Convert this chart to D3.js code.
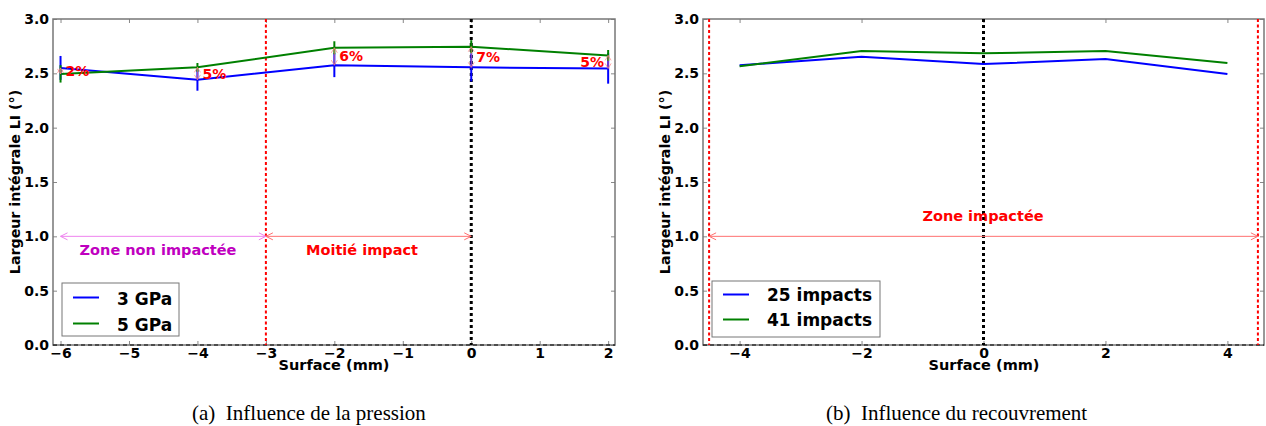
<!DOCTYPE html>
<html><head><meta charset="utf-8">
<script src="https://cdn.jsdelivr.net/npm/d3@7"></script>
<style>body{margin:0;background:#fff}svg{display:block}text{font-family:"DejaVu Sans",sans-serif}.cap{font-family:"Liberation Serif",serif;white-space:pre}</style>
</head><body>
<svg id="c" width="1266" height="426"></svg>
<script>
// ---- Data ----
const xA = [-6, -4, -2, 0, 2];
const gpa3 = [2.55, 2.44, 2.575, 2.555, 2.545];
const gpa3Err = [0.11, 0.10, 0.11, 0.13, 0.14];
const gpa5 = [2.495, 2.555, 2.735, 2.745, 2.665];
const gpa5Err = [0.08, 0.04, 0.06, 0.06, 0.05];
const pctLabels = ["2%", "5%", "6%", "7%", "5%"];
const xTicksA = [-6, -5, -4, -3, -2, -1, 0, 1, 2];

const xB = [-4, -2, 0, 2, 4];
const imp25 = [2.574, 2.653, 2.585, 2.632, 2.494];
const imp41 = [2.565, 2.705, 2.684, 2.705, 2.595];
const xTicksB = [-4, -2, 0, 2, 4];
const yTicks = [0.0, 0.5, 1.0, 1.5, 2.0, 2.5, 3.0];

const svg = d3.select("#c");
const BLUE = "#0000ff", GREEN = "#008000", RED = "#ff0000";
const fmtX = d => (d < 0 ? "\u2212" + Math.abs(d) : String(d));

function panel(cfg) {
  const x = d3.scaleLinear().domain(cfg.xdom).range([cfg.left, cfg.right]);
  const y = d3.scaleLinear().domain([0, 3]).range([345, 19]);
  const g = svg.append("g");
  const axB = g.append("g").attr("transform", `translate(0,${y(0)})`)
    .call(d3.axisBottom(x).tickValues(cfg.xticks).tickSize(-4).tickPadding(3).tickFormat(fmtX));
  const axT = g.append("g").attr("transform", `translate(0,${y(3)})`)
    .call(d3.axisTop(x).tickValues(cfg.xticks).tickSize(-4).tickFormat(""));
  const axL = g.append("g").attr("transform", `translate(${cfg.left},0)`)
    .call(d3.axisLeft(y).tickValues(yTicks).tickSize(-4).tickPadding(4).tickFormat(d3.format(".1f")));
  const axR = g.append("g").attr("transform", `translate(${cfg.right},0)`)
    .call(d3.axisRight(y).tickValues(yTicks).tickSize(-4).tickFormat(""));
  [axB, axT, axL, axR].forEach(a => {
    a.select(".domain").remove();
    a.selectAll(".tick line").attr("stroke", "#888");
    a.selectAll("text").attr("font-size", 14).attr("font-weight", "bold").attr("fill", "#000");
  });
  g.append("rect").attr("x", cfg.left).attr("y", y(3)).attr("width", cfg.right - cfg.left)
    .attr("height", y(0) - y(3)).attr("fill", "none").attr("stroke", "#777").attr("stroke-width", 1.5);
  g.append("line").attr("x1", cfg.left).attr("x2", cfg.right).attr("y1", y(0)).attr("y2", y(0))
    .attr("stroke", "#000").attr("stroke-width", 1.2).attr("stroke-dasharray", "4,3");
  g.append("text").attr("x", cfg.xlabX).attr("y", 370).attr("text-anchor", "middle")
    .attr("font-size", 14.5).attr("font-weight", "bold").text("Surface (mm)");
  g.append("text").attr("transform", `translate(${cfg.left - 33},${y(1.5)}) rotate(-90)`).attr("text-anchor", "middle")
    .attr("font-size", 14.2).attr("font-weight", "bold").text("Largeur intégrale LI (°)");
  return {g, x, y};
}

function vline(g, x, y, xv, color, w, dash) {
  g.append("line").attr("x1", x(xv)).attr("x2", x(xv)).attr("y1", y(3)).attr("y2", y(0))
    .attr("stroke", color).attr("stroke-width", w).attr("stroke-dasharray", dash);
}
function dblArrow(g, x, y, x0, x1, yv, color) {
  g.append("line").attr("x1", x(x0)).attr("x2", x(x1)).attr("y1", y(yv)).attr("y2", y(yv))
    .attr("stroke", color).attr("stroke-width", 1);
  const h = 7, hw = 3.5;
  [[x0, 1], [x1, -1]].forEach(([xv, s]) => {
    const px = x(xv), py = y(yv);
    g.append("path").attr("d", `M${px + s * h},${py - hw}L${px},${py}L${px + s * h},${py + hw}`)
      .attr("fill", "none").attr("stroke", color).attr("stroke-width", 1);
  });
}
function legend(g, x0, y0, w, h, items, textX, l1, gap, tdy) {
  g.append("rect").attr("x", x0).attr("y", y0).attr("width", w).attr("height", h)
    .attr("fill", "#fff").attr("stroke", "#777").attr("stroke-width", 1);
  items.forEach((it, i) => {
    const yy = y0 + l1 + i * gap;
    g.append("line").attr("x1", x0 + 11).attr("x2", x0 + 37).attr("y1", yy).attr("y2", yy)
      .attr("stroke", it.c).attr("stroke-width", 2);
    g.append("text").attr("x", textX).attr("y", yy + tdy).attr("font-size", 17).attr("font-weight", "bold").text(it.t);
  });
}

// ---- Panel A ----
const A = panel({xdom: [-6.11, 2.1], left: 53, right: 615, xticks: xTicksA, xlabX: 334});
vline(A.g, A.x, A.y, -3, RED, 2, "3,2.5");
vline(A.g, A.x, A.y, 0, "#000", 3, "3,3");
dblArrow(A.g, A.x, A.y, -6, -3, 1.0, "#ee82ee");
dblArrow(A.g, A.x, A.y, -3, 0, 1.0, "#ff7070");
A.g.append("text").attr("x", 158).attr("y", 255).attr("text-anchor", "middle").attr("font-size", 14.5)
  .attr("font-weight", "bold").attr("fill", "#bf00bf").text("Zone non impactée");
A.g.append("text").attr("x", 362).attr("y", 255).attr("text-anchor", "middle").attr("font-size", 14.5)
  .attr("font-weight", "bold").attr("fill", RED).text("Moitié impact");

const lineA = d3.line().x((d, i) => A.x(xA[i])).y(d => A.y(d));
A.g.append("path").attr("d", lineA(gpa3)).attr("fill", "none").attr("stroke", BLUE).attr("stroke-width", 2);
A.g.append("path").attr("d", lineA(gpa5)).attr("fill", "none").attr("stroke", GREEN).attr("stroke-width", 2);
gpa3.forEach((v, i) => A.g.append("line").attr("x1", A.x(xA[i])).attr("x2", A.x(xA[i]))
  .attr("y1", A.y(v - gpa3Err[i])).attr("y2", A.y(v + gpa3Err[i])).attr("stroke", BLUE).attr("stroke-width", 2));
gpa5.forEach((v, i) => A.g.append("line").attr("x1", A.x(xA[i])).attr("x2", A.x(xA[i]))
  .attr("y1", A.y(v - gpa5Err[i])).attr("y2", A.y(v + gpa5Err[i])).attr("stroke", GREEN).attr("stroke-width", 2));
xA.forEach((xv, i) => {
  const ya = A.y(gpa3[i]), yb = A.y(gpa5[i]);
  const px = A.x(xv);
  const top = Math.min(ya, yb), bot = Math.max(ya, yb);
  A.g.append("line").attr("x1", px).attr("x2", px).attr("y1", top).attr("y2", bot)
    .attr("stroke", "#ff8080").attr("stroke-width", 1).attr("opacity", 0.7);
  [[top, 1], [bot, -1]].forEach(([py, s]) => A.g.append("path")
    .attr("d", `M${px - 3},${py + s * 5}L${px},${py}L${px + 3},${py + s * 5}`)
    .attr("fill", "none").attr("stroke", "#ff8080").attr("stroke-width", 1).attr("opacity", 0.7));
  const last = i === xA.length - 1;
  A.g.append("text").attr("x", last ? px - 4 : px + 5).attr("y", (top + bot) / 2 + 5)
    .attr("text-anchor", last ? "end" : "start").attr("font-size", 14).attr("font-weight", "bold")
    .attr("fill", RED).text(pctLabels[i]);
});
legend(A.g, 62, 283, 117, 53, [{t: "3 GPa", c: BLUE}, {t: "5 GPa", c: GREEN}], 117, 14.5, 26, 7);

// ---- Panel B ----
const B = panel({xdom: [-4.6, 4.6], left: 703, right: 1264, xticks: xTicksB, xlabX: 984});
vline(B.g, B.x, B.y, -4.5, RED, 2, "3,2.5");
vline(B.g, B.x, B.y, 4.5, RED, 2, "3,2.5");
vline(B.g, B.x, B.y, 0, "#000", 3, "3,3");
dblArrow(B.g, B.x, B.y, -4.5, 4.5, 1.0, "#ff7070");
B.g.append("text").attr("x", 983).attr("y", 221).attr("text-anchor", "middle").attr("font-size", 14.5)
  .attr("font-weight", "bold").attr("fill", RED).text("Zone impactée");
const lineB = d3.line().x((d, i) => B.x(xB[i])).y(d => B.y(d));
B.g.append("path").attr("d", lineB(imp25)).attr("fill", "none").attr("stroke", BLUE).attr("stroke-width", 2);
B.g.append("path").attr("d", lineB(imp41)).attr("fill", "none").attr("stroke", GREEN).attr("stroke-width", 2);
legend(B.g, 712, 281, 168, 56, [{t: "25 impacts", c: BLUE}, {t: "41 impacts", c: GREEN}], 767, 13.5, 25, 6.5);

// captions
svg.append("text").attr("class", "cap").attr("x", 192).attr("y", 420)
  .attr("font-size", 21).text("(a)  Influence de la pression");
svg.append("text").attr("class", "cap").attr("x", 826).attr("y", 420)
  .attr("font-size", 21).text("(b)  Influence du recouvrement");
</script>
</body></html>
